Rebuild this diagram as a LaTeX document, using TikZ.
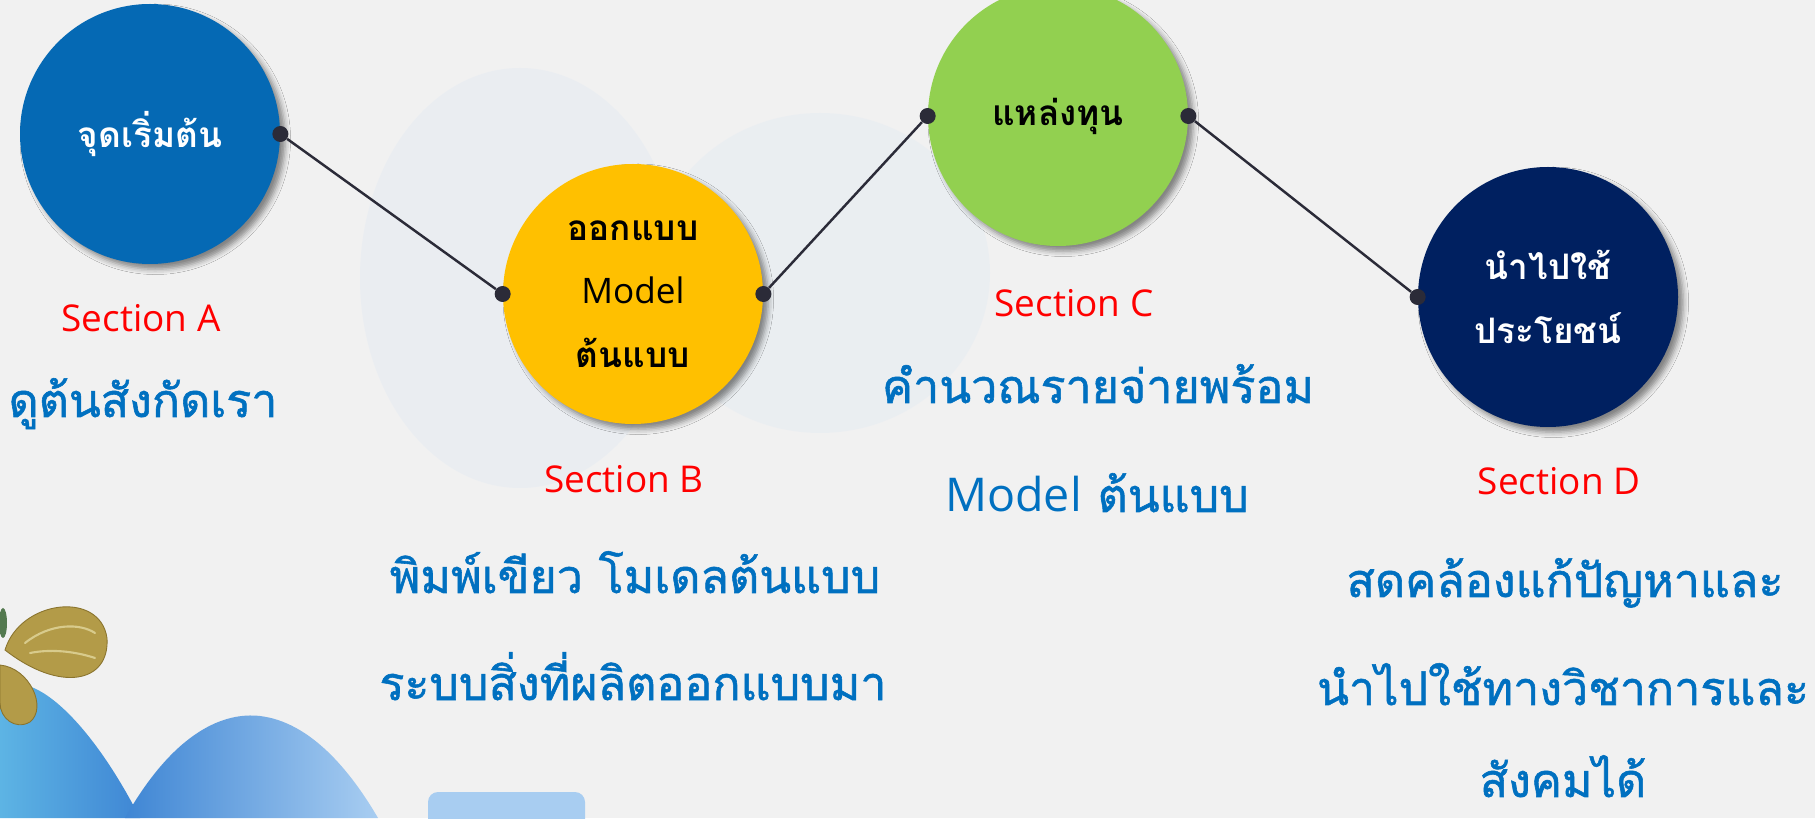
\documentclass[tikz,border=0pt]{standalone}
\usepackage{fontspec}
\setmainfont{Open Sans}
\newfontfamily\thaifont[Script=Thai]{Loma}
\newfontfamily\thaiheavy[Script=Thai,FakeBold=1.2]{Loma}
\usetikzlibrary{shadows.blur}

\definecolor{paper}{HTML}{F1F1F1}
\definecolor{haze}{HTML}{DDE8F3}
\definecolor{stageA}{HTML}{0569B4}
\definecolor{stageB}{HTML}{FFC000}
\definecolor{stageC}{HTML}{92D050}
\definecolor{stageD}{HTML}{002060}
\definecolor{tagred}{HTML}{FF0000}
\definecolor{blurbblue}{HTML}{0070C0}
\definecolor{linkgray}{HTML}{2B2B38}
\definecolor{hillcyan}{HTML}{5DB4E4}
\definecolor{hilldeep}{HTML}{3F86D4}
\definecolor{hillpale}{HTML}{A8CDF1}
\definecolor{wing}{HTML}{B39B48}
\definecolor{wingdark}{HTML}{8A742E}
\definecolor{winglight}{HTML}{D8CB8C}

\begin{document}
\begin{tikzpicture}[
        stage/.style={circle, minimum size=5.2cm, inner sep=0pt, align=center,
            font=\thaifont\bfseries\fontsize{20}{36}\selectfont,
            blur shadow={shadow xshift=3pt, shadow yshift=-3pt, shadow blur radius=3pt, shadow opacity=45}},
        dot/.style={circle, fill=linkgray, inner sep=0pt, minimum size=0.32cm},
        link/.style={draw=linkgray, line width=1.4pt},
        tag/.style={text=tagred, anchor=base, font=\fontsize{21}{25}\selectfont},
        blurb/.style={text=blurbblue, anchor=base, font=\thaiheavy\fontsize{26.5}{32}\selectfont}
    ]
    \useasboundingbox (0,0) rectangle (36.3,16.36);

    % paper and decoration
    \fill[paper] (0,0) rectangle (36.3,16.36);
    \fill[haze, opacity=0.35] (10.4,10.8) ellipse (3.2cm and 4.2cm);
    \fill[haze, opacity=0.3] (16.4,10.9) ellipse (3.4cm and 3.2cm);

    \shade[left color=hillcyan, right color=hilldeep]
        (0,0) -- (0,2.56) .. controls (0.6,3.06) and (1.8,1.96) .. (2.8,0) -- cycle;
    \shade[left color=hilldeep, right color=hillpale]
        (2.5,0) .. controls (3.5,1.76) and (4.5,2.12) .. (5.2,2.04)
        .. controls (6.2,1.92) and (7.0,0.96) .. (7.56,0) -- cycle;
    \fill[hillpale, rounded corners=0.2cm] (8.56,-0.5) rectangle (11.7,0.52);

    % butterfly
    \fill[wing, draw=wingdark, line width=0.5pt]
        (0,3.06) .. controls (0.6,3.0) and (0.95,2.2) .. (0.6,1.92)
        .. controls (0.3,1.75) and (0,2.0) .. (0,2.3) -- cycle;
    \fill[wing, draw=wingdark, line width=0.5pt]
        (0.1,3.36) .. controls (0.4,4.36) and (2.0,4.56) .. (2.14,3.6)
        .. controls (2.2,2.7) and (1.2,2.5) .. cycle;
    \draw[winglight, line width=1.2pt, line cap=round]
        (0.5,3.5) .. controls (1.0,3.9) and (1.6,3.9) .. (1.9,3.7);
    \draw[winglight, line width=1.2pt, line cap=round]
        (0.6,3.3) .. controls (1.1,3.4) and (1.6,3.3) .. (1.9,3.2);
    \fill[wingdark!60!teal] (0.06,3.9) ellipse (0.08cm and 0.3cm);

    % stages
    \node[stage, fill=stageA, text=white] (a) at (3.0,13.68) {จุดเริ่มต้น};
    \node[stage, fill=stageB] (b) at (12.66,10.48) {ออกแบบ\\{\rmfamily\mdseries Model}\\ต้นแบบ};
    \node[stage, fill=stageC] (c) at (21.16,14.04) {แหล่งทุน};
    \node[stage, fill=stageD, text=white] (d) at (30.96,10.42) {นำไปใช้\\ประโยชน์};

    \node[dot] (a-r) at (a.east) {};
    \node[dot] (b-l) at (b.west) {};
    \node[dot] (b-r) at (b.east) {};
    \node[dot] (c-l) at (c.west) {};
    \node[dot] (c-r) at (c.east) {};
    \node[dot] (d-l) at (d.west) {};

    \draw[link] (a-r) -- (b-l);
    \draw[link] (b-r) -- (c-l);
    \draw[link] (c-r) -- (d-l);

    % section tags
    \node[tag] (tag-a) at (2.82,9.72) {Section A};
    \node[tag] (tag-b) at (12.48,6.50) {Section B};
    \node[tag] (tag-c) at (21.48,10.02) {Section C};
    \node[tag] (tag-d) at (31.18,6.46) {Section D};

    % descriptions
    \node[blurb] (txt-a) at (2.86,8.02) {ดูต้นสังกัดเรา};
    \node[blurb] (txt-b1) at (12.70,4.50) {พิมพ์เขียว โมเดลต้นแบบ};
    \node[blurb] (txt-b2) at (12.66,2.36) {ระบบสิ่งที่ผลิตออกแบบมา};
    \node[blurb] (txt-c1) at (21.96,8.30) {คำนวณรายจ่ายพร้อม};
    \node[blurb] (txt-c2) at (21.94,6.12) {{\rmfamily Model} ต้นแบบ};
    \node[blurb] (txt-d1) at (31.30,4.42) {สดคล้องแก้ปัญหาและ};
    \node[blurb] (txt-d2) at (31.26,2.26) {นำไปใช้ทางวิชาการและ};
    \node[blurb] (txt-d3) at (31.26,0.42) {สังคมได้};
\end{tikzpicture}
\end{document}
